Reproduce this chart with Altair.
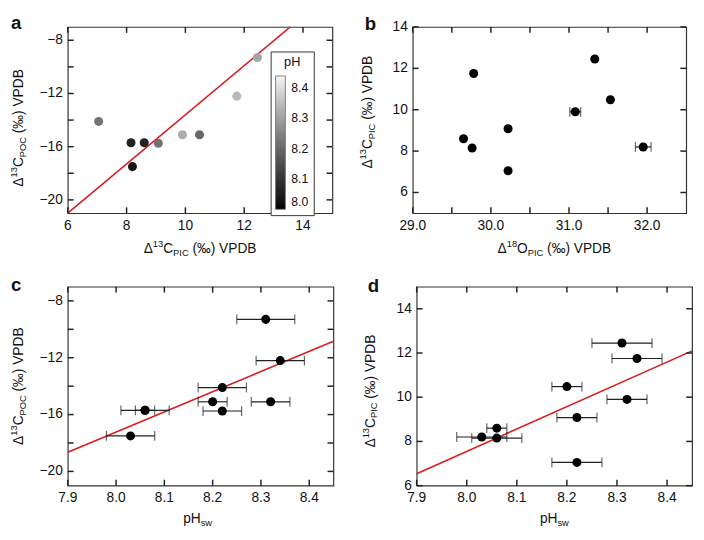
import altair as alt
import pandas as pd

# ---------------- data ----------------
ph_sw      = [8.31, 8.34, 8.20, 8.32, 8.22, 8.06, 8.03, 8.06, 8.22]
ph_err     = [0.06, 0.05, 0.03, 0.04, 0.04, 0.02, 0.05, 0.05, 0.05]
d13c_pic   = [12.45, 11.75, 10.48, 9.90, 9.08, 8.60, 8.20, 8.15, 7.05]
d13c_poc   = [-9.3, -12.2, -15.1, -15.1, -15.75, -15.7, -17.5, -15.7, -14.1]
d18o_pic   = [31.33, 29.78, 31.53, 31.08, 30.22, 29.65, 31.95, 29.76, 30.22]
d18o_err   = [0.0, 0.0, 0.0, 0.07, 0.0, 0.0, 0.10, 0.0, 0.0]

# regression lines: slope, intercept
fit_a = (1.85, -32.1)     # POC vs PIC
fit_c = (14.2, -130.83)   # POC vs pH
fit_d = (10.1, -73.25)    # PIC vs pH

legend_ph_values = [8.0, 8.1, 8.2, 8.3, 8.4]

# tick positions and tick labels
a_xticks  = [6, 8, 10, 12, 14]
a_xlabels = ["6", "8", "10", "12", "14"]
poc_ticks  = [-20, -18, -16, -14, -12, -10, -8]
poc_labels = ["−20", "", "−16", "", "−12", "", "−8"]
b_xticks  = [29.0, 29.5, 30.0, 30.5, 31.0, 31.5, 32.0]
b_xlabels = ["29.0", "", "30.0", "", "31.0", "", "32.0"]
pic_ticks  = [6, 8, 10, 12, 14]
pic_labels = ["6", "8", "10", "12", "14"]
ph_ticks  = [7.9, 8.0, 8.1, 8.2, 8.3, 8.4]
ph_labels = ["7.9", "8.0", "8.1", "8.2", "8.3", "8.4"]

df = pd.DataFrame({
    "ph": ph_sw, "ph_lo": [p - e for p, e in zip(ph_sw, ph_err)],
    "ph_hi": [p + e for p, e in zip(ph_sw, ph_err)],
    "pic": d13c_pic, "poc": d13c_poc, "o18": d18o_pic,
    "o18_lo": [o - e for o, e in zip(d18o_pic, d18o_err)],
    "o18_hi": [o + e for o, e in zip(d18o_pic, d18o_err)],
    "o18_err": d18o_err,
})

FONT = "Liberation Sans"
INK = "#111111"
RED = "#d81e1e"
TICK = "#222222"
TL = 6  # tick length in pixels

# Arial / Liberation Sans advance widths (per 1000 em)
WID = {"Δ": 667, "C": 722, "P": 667, "I": 278, "O": 778, " ": 278, "(": 333,
       ")": 333, "‰": 1000, "V": 667, "D": 722, "B": 667, "p": 556, "H": 722,
       "s": 500, "w": 722}


def tw(s, size):
    return sum(WID.get(ch, 556) for ch in s) * size / 1000.0


def piece(t, x, y, size, angle=0, weight="normal"):
    kw = dict(align="left", baseline="alphabetic", font=FONT, fontSize=size,
              color=INK, fontWeight=weight)
    if angle:
        kw["angle"] = angle
    return alt.Chart(alt.Data(values=[{}])).mark_text(**kw).encode(
        x=alt.value(x), y=alt.value(y), text=alt.value(t))


def htitle(parts, cx, base):
    total = sum(tw(t, s) for t, s, _ in parts)
    x = cx - total / 2.0
    out = []
    for t, s, sh in parts:
        lead = len(t) - len(t.lstrip())
        out.append(piece(t.strip(), x + tw(t[:lead], s), base + sh, s))
        x += tw(t, s)
    return out


def vtitle(parts, bx, cy):
    total = sum(tw(t, s) for t, s, _ in parts)
    y = cy + total / 2.0
    out = []
    for t, s, sh in parts:
        lead = len(t) - len(t.lstrip())
        out.append(piece(t.strip(), bx + sh, y - tw(t[:lead], s), s, angle=270))
        y -= tw(t, s)
    return out


M, S = 14, 9.5
def iso(num, el, sub):
    return [("Δ", M, 0), (num, S, -6), (el, M, 0), (sub, S, 3), (" (‰) VPDB", M, 0)]

PH_T = [("pH", M, 0), ("sw", S, 3)]


def line_df(fit, xdom, ydom):
    m, b = fit
    x0, x1 = xdom
    if m * x1 + b > ydom[1]:
        x1 = (ydom[1] - b) / m
    if m * x0 + b < ydom[0]:
        x0 = (ydom[0] - b) / m
    return pd.DataFrame({"x": [x0, x1], "y": [m * x0 + b, m * x1 + b]})


def panel(letter, lpos, W, H, xf, yf, xdom, ydom, xvals, xlabs, yvals, ylabs,
          xt, xt_c, xt_b, yt, yt_b, yt_c,
          fit=None, xerr=None, color=False, legend=None):
    xs = alt.Scale(domain=xdom, nice=False, zero=False)
    ys = alt.Scale(domain=ydom, nice=False, zero=False)

    def X(f):
        return alt.X(f, scale=xs, axis=None)

    def Y(f):
        return alt.Y(f, scale=ys, axis=None)

    dx = pd.DataFrame({"v": xvals, "t": xlabs})
    dy = pd.DataFrame({"v": yvals, "t": ylabs})
    rk = dict(color=TICK, strokeWidth=1.5)
    layers = []
    if fit is not None:
        layers.append(alt.Chart(line_df(fit, xdom, ydom)).mark_line(
            color=RED, strokeWidth=1.6).encode(x=X("x:Q"), y=Y("y:Q")))
    if xerr is not None:
        lo, hi, d = xerr
        layers.append(alt.Chart(d).mark_errorbar(
            ticks={"size": 10, "thickness": 1.2, "color": "#222"},
            rule={"strokeWidth": 1.2, "color": "#222"}, color="#222").encode(
            x=X(lo + ":Q"), x2=alt.X2(hi + ":Q"), y=Y(yf + ":Q")))
    if color:
        pts = alt.Chart(df).mark_circle(size=85, opacity=1).encode(
            x=X(xf + ":Q"), y=Y(yf + ":Q"),
            color=alt.Color("ph:Q", scale=alt.Scale(domain=[8.0, 8.44],
                            range=["#000000", "#f6f6f6"]), legend=legend))
    else:
        pts = alt.Chart(df).mark_circle(size=85, opacity=1, color="#000000").encode(
            x=X(xf + ":Q"), y=Y(yf + ":Q"))
    layers.append(pts)
    # inward tick marks on all four sides
    for y0, y1 in ((0, TL), (H - TL, H)):
        layers.append(alt.Chart(dx).mark_rule(**rk).encode(
            x=X("v:Q"), y=alt.value(y0), y2=alt.value(y1)))
    for x0, x1 in ((0, TL), (W - TL, W)):
        layers.append(alt.Chart(dy).mark_rule(**rk).encode(
            y=Y("v:Q"), x=alt.value(x0), x2=alt.value(x1)))
    # tick labels
    layers.append(alt.Chart(dx).mark_text(
        align="center", baseline="top", font=FONT, fontSize=14, color=INK).encode(
        x=X("v:Q"), y=alt.value(H + 6), text="t:N"))
    layers.append(alt.Chart(dy).mark_text(
        align="right", baseline="middle", font=FONT, fontSize=14, color=INK).encode(
        y=Y("v:Q"), x=alt.value(-5), text="t:N"))
    layers += htitle(xt, W / 2.0 + xt_c, H + xt_b)
    layers += vtitle(yt, yt_b, H / 2.0 + yt_c)
    layers.append(piece(letter, lpos[0], lpos[1], 19, weight="bold"))
    return alt.layer(*layers).properties(width=W, height=H)


ph_legend = alt.Legend(
    orient="none", legendX=207, legendY=25, title="pH", values=legend_ph_values,
    format=".1f", gradientLength=136, gradientThickness=10, fillColor="white",
    strokeColor="#333", padding=5, titleFont=FONT, titleFontSize=13,
    titleFontWeight="normal", titleColor=INK, titleAnchor="middle", titlePadding=7,
    labelFont=FONT, labelFontSize=12.5, labelColor=INK, labelOffset=6,
    labelBaseline="middle", gradientStrokeColor="#666", gradientStrokeWidth=0.8,
    direction="vertical", type="gradient")

pa = panel("a", (-58, 2), 270, 190, "pic", "poc", [6, 15], [-21, -7],
           a_xticks, a_xlabels, poc_ticks, poc_labels,
           iso("13", "C", "PIC"), 0, 41, iso("13", "C", "POC"), -46, 8,
           fit=fit_a, color=True, legend=ph_legend)

pb = panel("b", (-49, 3), 279, 190, "o18", "pic", [29, 32.5], [5, 14],
           b_xticks, b_xlabels, pic_ticks, pic_labels,
           iso("18", "O", "PIC"), 5, 41, iso("13", "C", "PIC"), -42, -8,
           xerr=("o18_lo", "o18_hi", df[df["o18_err"] > 0]))

pc = panel("c", (-58, 4), 271, 203, "ph", "poc", [7.9, 8.45], [-21, -7],
           ph_ticks, ph_labels, poc_ticks, poc_labels,
           PH_T, -3, 38, iso("13", "C", "POC"), -46, 0,
           fit=fit_c, xerr=("ph_lo", "ph_hi", df))

pd_ = panel("d", (-50, 5), 281, 203, "ph", "pic", [7.9, 8.45], [6, 15],
            ph_ticks, ph_labels, pic_ticks, pic_labels,
            PH_T, 0, 38, iso("13", "C", "PIC"), -43, 5,
            fit=fit_d, xerr=("ph_lo", "ph_hi", df))

row1 = alt.hconcat(pa, pb, spacing=23).resolve_scale(x="independent", y="independent", color="independent")
row2 = alt.hconcat(pc, pd_, spacing=23).resolve_scale(x="independent", y="independent", color="independent")

chart = alt.vconcat(row1, row2, spacing=16).resolve_scale(
    x="independent", y="independent", color="independent").properties(
    padding=0, background="white").configure_view(
    stroke="#333", strokeWidth=1.2)

chart.save("out.html", embed_options={"renderer": "svg", "actions": False})
